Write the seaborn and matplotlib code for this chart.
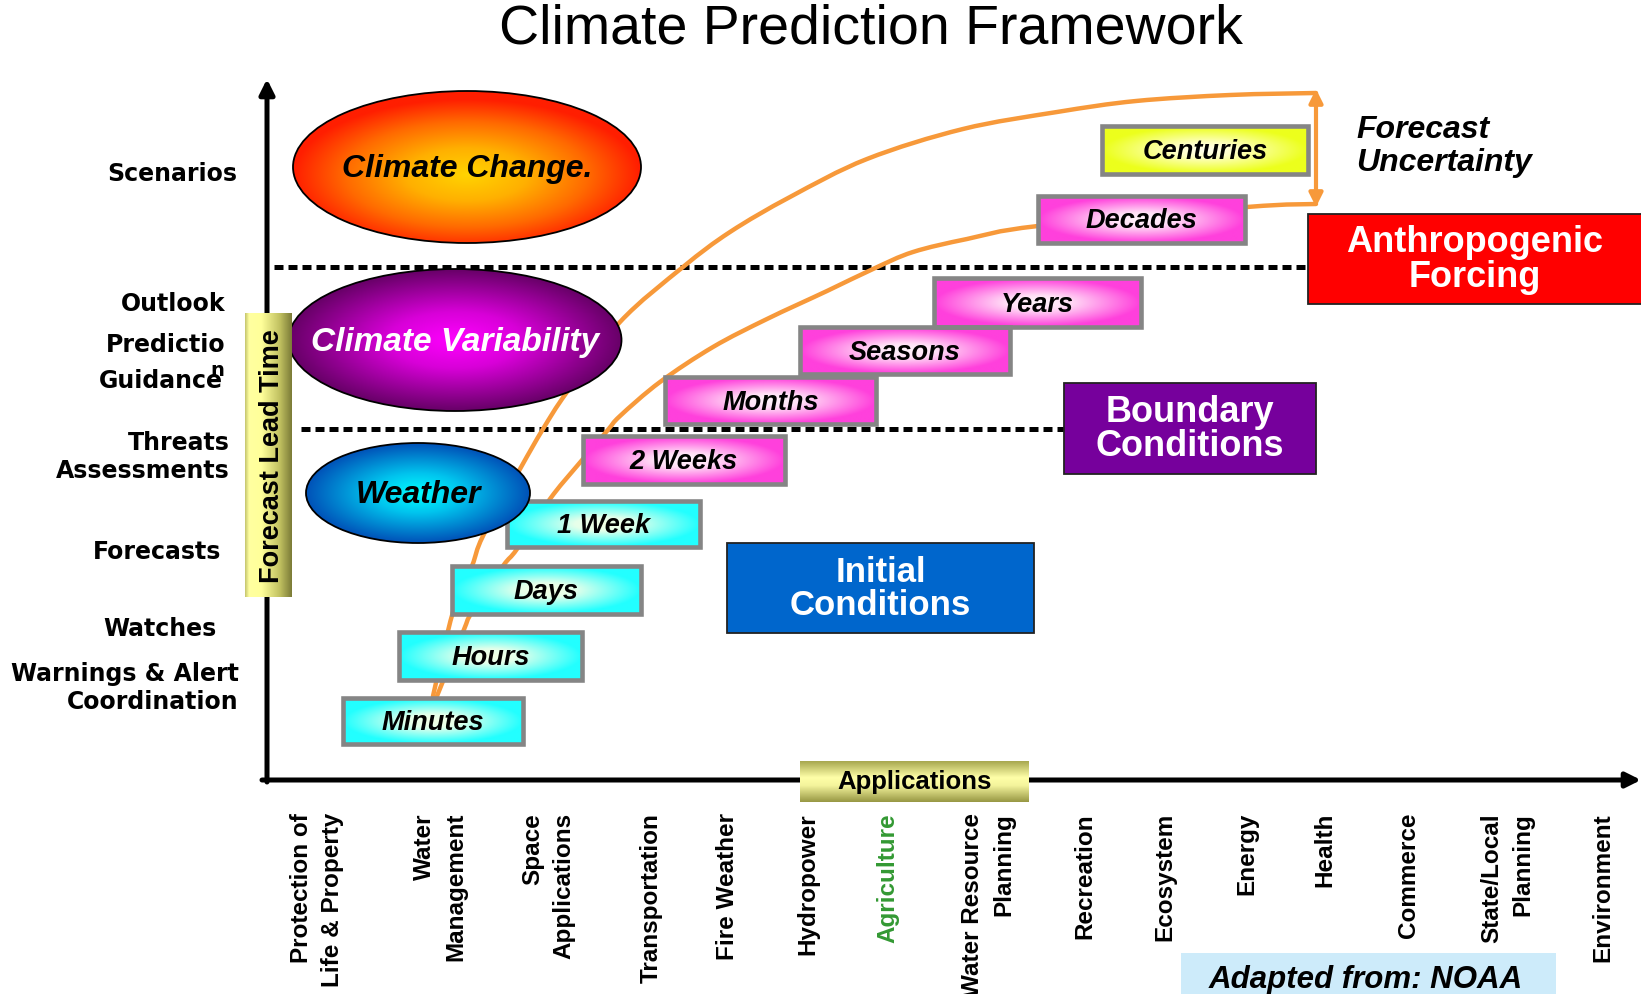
import numpy as np
import matplotlib
matplotlib.use("Agg")
import matplotlib.pyplot as plt
import seaborn as sns
from matplotlib.patches import Ellipse, Rectangle, PathPatch
from matplotlib.path import Path
from matplotlib.colors import to_rgb

# ---------------- data ----------------
title = "Climate Prediction Framework"
time_scales = ["Minutes", "Hours", "Days", "1 Week", "2 Weeks",
               "Months", "Seasons", "Years", "Decades", "Centuries"]
scale_kind = ["cyan", "cyan", "cyan", "cyan", "pink",
              "pink", "pink", "pink", "pink", "yellow"]
lead_labels = ["Scenarios", "Outlook", "Predictio", "n", "Guidance", "Threats",
               "Assessments", "Forecasts", "Watches", "Warnings & Alert", "Coordination"]
applications = ["Protection of\nLife & Property", "Water\nManagement", "Space\nApplications",
                "Transportation", "Fire Weather", "Hydropower", "Agriculture",
                "Water Resource\nPlanning", "Recreation", "Ecosystem", "Energy", "Health",
                "Commerce", "State/Local\nPlanning", "Environment"]
phenomena = ["Climate Change.", "Climate Variability", "Weather"]
drivers = ["Anthropogenic\nForcing", "Boundary\nConditions", "Initial\nConditions"]
uncertainty_label = ["Forecast", "Uncertainty"]
source_note = "Adapted from: NOAA"

# forecast-uncertainty envelope (pixel space)
upper_x = [433, 453, 472, 483, 520, 543, 567, 620, 683, 730, 790, 867, 963,
           1057, 1136, 1230, 1316]
upper_y = [697, 613, 567, 537, 470, 430, 393, 323, 268, 233, 198, 160, 130,
           113, 102, 96, 94]
lower_x = [437, 463, 472, 503, 517, 550, 577, 607, 620, 660, 713, 767, 827, 873,
           913, 967, 1038, 1247, 1316]
lower_y = [697, 633, 613, 567, 550, 500, 467, 432, 417, 383, 348, 320, 292, 270,
           253, 240, 227, 208, 205]

# ---------------- layout ----------------
W, H = 1641, 995
scale_boxes = [(343, 699, 523, 745), (399, 633, 582, 681), (452, 567, 641, 615),
               (507, 502, 700, 548), (583, 437, 785, 485), (665, 378, 876, 425),
               (800, 328, 1010, 375), (934, 279, 1141, 328), (1038, 197, 1245, 244),
               (1102, 127, 1308, 175)]
ellipses = [(467, 168, 348, 152), (455, 341, 333, 142), (418, 494, 224, 100)]
ell_text_col = ["black", "white", "black"]
ell_fs = [23, 24, 23]
ell_stops = [
    [(0, "#FFD400"), (0.35, "#FFB000"), (0.7, "#FF6A00"), (1, "#FF1E00")],
    [(0, "#FF00FF"), (0.4, "#D800D8"), (1, "#680068")],
    [(0, "#00FFFF"), (0.4, "#00C4EE"), (1, "#0052B8")],
]
driver_boxes = [(1308, 215, 1645, 305), (1064, 384, 1316, 475), (727, 544, 1034, 634)]
driver_cols = ["#FF0000", "#76009C", "#0066CC"]
driver_fs = [26, 26, 25]
lead_pos = [(237, 174), (225, 304), (225, 345), (224, 370), (223, 381), (230, 443),
            (230, 471), (221, 552), (217, 629), (239, 674), (239, 702)]
app_x = [317, 440, 548, 651, 727, 808, 888, 988, 1085, 1165, 1247, 1325, 1408, 1507, 1603]
app_top = 813

kind_stops = {
    "cyan": [(0, "#F2FFE4"), (0.3, "#E6FFEA"), (1, "#22FFFF")],
    "pink": [(0, "#FFF4FB"), (0.3, "#FFE0F6"), (1, "#FF40DC")],
    "yellow": [(0, "#FFFFF0"), (0.3, "#FFFFC8"), (1, "#ECFF1C")],
}

sns.set_theme(style="white")
plt.rcParams["font.family"] = ["Liberation Sans", "DejaVu Sans"]
plt.rcParams["text.color"] = "black"

fig = plt.figure(figsize=(16.41, 9.95), dpi=100)
ax = fig.add_axes([0, 0, 1, 1])
ax.set_facecolor("white")


def ramp(t, stops):
    pos = [s[0] for s in stops]
    cols = np.array([to_rgb(s[1]) for s in stops])
    return np.stack([np.interp(t, pos, cols[:, k]) for k in range(3)], axis=-1)


def radial(nx, ny, stops, cx=0.5, cy=0.5):
    yy, xx = np.mgrid[0:1:ny * 1j, 0:1:nx * 1j]
    r = np.clip(np.sqrt(((xx - cx) / 0.5) ** 2 + ((yy - cy) / 0.5) ** 2), 0, 1)
    return ramp(r, stops)


def smooth_path(xs, ys):
    P = np.column_stack([xs, ys]).astype(float)
    verts = [P[0]]
    codes = [Path.MOVETO]
    n = len(P)
    for i in range(n - 1):
        p0 = P[i - 1] if i > 0 else P[i]
        p1, p2 = P[i], P[i + 1]
        p3 = P[i + 2] if i + 2 < n else P[i + 1]
        verts += [p1 + (p2 - p0) / 6, p2 - (p3 - p1) / 6, p2]
        codes += [Path.CURVE4] * 3
    return Path(verts, codes)


# title
ax.text(871, 29, title, ha="center", va="center", fontsize=40, color="black")

# axes arrows
ax.annotate("", xy=(267, 80), xytext=(267, 783),
            arrowprops=dict(arrowstyle="-|>", lw=3.6, color="black", mutation_scale=22,
                            shrinkA=0, shrinkB=0), zorder=1)
ax.annotate("", xy=(1641, 781), xytext=(262, 781),
            arrowprops=dict(arrowstyle="-|>", lw=3.6, color="black", mutation_scale=22,
                            shrinkA=0, shrinkB=0), zorder=1)

# dotted separators
dot = (0, (1.8, 1.0))
sns.lineplot(x=[274, 1308], y=[268, 268], ax=ax, color="black", lw=3.6,
             linestyle=dot, zorder=1.5)
sns.lineplot(x=[301, 1065], y=[430, 430], ax=ax, color="black", lw=3.6,
             linestyle=dot, zorder=1.5)

# uncertainty curves
orange = "#F7993A"
for xs, ys in [(upper_x, upper_y), (lower_x, lower_y)]:
    ax.add_patch(PathPatch(smooth_path(xs, ys), fill=False, edgecolor=orange,
                           lw=3.2, zorder=2, capstyle="round", joinstyle="round"))
ax.annotate("", xy=(1316, 90), xytext=(1316, 208),
            arrowprops=dict(arrowstyle="<|-|>", lw=3.0, color=orange, mutation_scale=20,
                            shrinkA=0, shrinkB=0), zorder=2)
ax.text(1356, 130, uncertainty_label[0], ha="left", va="center", fontsize=23,
        fontweight="bold", style="italic")
ax.text(1356, 163, uncertainty_label[1], ha="left", va="center", fontsize=23,
        fontweight="bold", style="italic")

# time-scale boxes
for lab, kind, (x0, y0, x1, y1) in zip(time_scales, scale_kind, scale_boxes):
    img = radial(120, 30, kind_stops[kind])
    ax.imshow(img, extent=(x0, x1, y1, y0), origin="upper", aspect="auto",
              zorder=3, interpolation="bilinear")
    ax.add_patch(Rectangle((x0, y0), x1 - x0, y1 - y0, fill=False, edgecolor="#858585",
                           lw=3.3, zorder=3.1))
    ax.text((x0 + x1) / 2, (y0 + y1) / 2 + 1, lab, ha="center", va="center",
            fontsize=19.5, fontweight="bold", style="italic", zorder=3.2)

# phenomena ellipses
for lab, (cx, cy, w, h), stops, tc, fs in zip(phenomena, ellipses, ell_stops, ell_text_col, ell_fs):
    e = Ellipse((cx, cy), w, h, facecolor="none", edgecolor="black", lw=1.3, zorder=4.1)
    ax.add_patch(e)
    im = ax.imshow(radial(200, 100, stops, cy=0.55 if tc == "black" and w > 300 else 0.5),
                   extent=(cx - w / 2, cx + w / 2, cy + h / 2, cy - h / 2), origin="upper",
                   aspect="auto", zorder=4, interpolation="bilinear")
    im.set_clip_path(e)
    ax.text(cx, cy + 1, lab, ha="center", va="center", fontsize=fs, fontweight="bold",
            style="italic", color=tc, zorder=4.2)

# driver boxes
for lab, (x0, y0, x1, y1), col, fs in zip(drivers, driver_boxes, driver_cols, driver_fs):
    ax.add_patch(Rectangle((x0, y0), x1 - x0, y1 - y0, facecolor=col, edgecolor="#222222",
                           lw=1.3, zorder=3))
    ax.text((x0 + min(x1, W)) / 2, (y0 + y1) / 2, lab, ha="center", va="center",
            fontsize=fs, fontweight="bold", color="white", linespacing=1.0, zorder=3.2)

# lead-time labels
for lab, (x, y) in zip(lead_labels, lead_pos):
    ax.text(x, y, lab, ha="right", va="center", fontsize=17 if lab != "n" else 14,
            fontweight="bold", family="DejaVu Sans", zorder=5)

# Forecast Lead Time box (horizontal gradient)
fx0, fy0, fx1, fy1 = 245, 314, 292, 598
t = np.linspace(0, 1, 60)
fl = ramp(t, [(0, "#C8C870"), (0.08, "#FFFFA0"), (0.35, "#FFFF9A"), (0.75, "#C0C060"), (1, "#7C7C38")])
ax.imshow(np.repeat(fl[None, :, :], 4, axis=0), extent=(fx0, fx1, fy1, fy0), origin="upper",
          aspect="auto", zorder=5, interpolation="bilinear")
ax.text(272, 456, "Forecast Lead Time", rotation=90, ha="center", va="center",
        fontsize=19.5, fontweight="bold", zorder=5.1)

# Applications box (vertical gradient)
ax0, ay0, ax1, ay1 = 800, 762, 1029, 803
ap = ramp(t, [(0, "#A8A850"), (0.4, "#FFFFA8"), (0.6, "#F4F49C"), (1, "#989844")])
ax.imshow(np.repeat(ap[:, None, :], 4, axis=1), extent=(ax0, ax1, ay1, ay0), origin="upper",
          aspect="auto", zorder=5, interpolation="bilinear")
ax.text((ax0 + ax1) / 2, (ay0 + ay1) / 2, "Applications", ha="center", va="center",
        fontsize=18.5, fontweight="bold", zorder=5.1)

# application category labels
for lab, x in zip(applications, app_x):
    ax.text(x, app_top, lab, rotation=90, ha="center", va="top", multialignment="right",
            fontsize=17.5, fontweight="bold", linespacing=1.45,
            color="#339933" if lab == "Agriculture" else "black")

# source note
ax.add_patch(Rectangle((1181, 954), 1556 - 1181, 50, facecolor="#CDEBFA", edgecolor="none",
                       zorder=1))
ax.text(1366, 980, source_note, ha="center", va="center", fontsize=22.5, style="italic",
        fontweight="bold", zorder=2)

ax.set_xlim(0, W)
ax.set_ylim(H, 0)
ax.axis("off")
fig.savefig("out.png", dpi=100)
